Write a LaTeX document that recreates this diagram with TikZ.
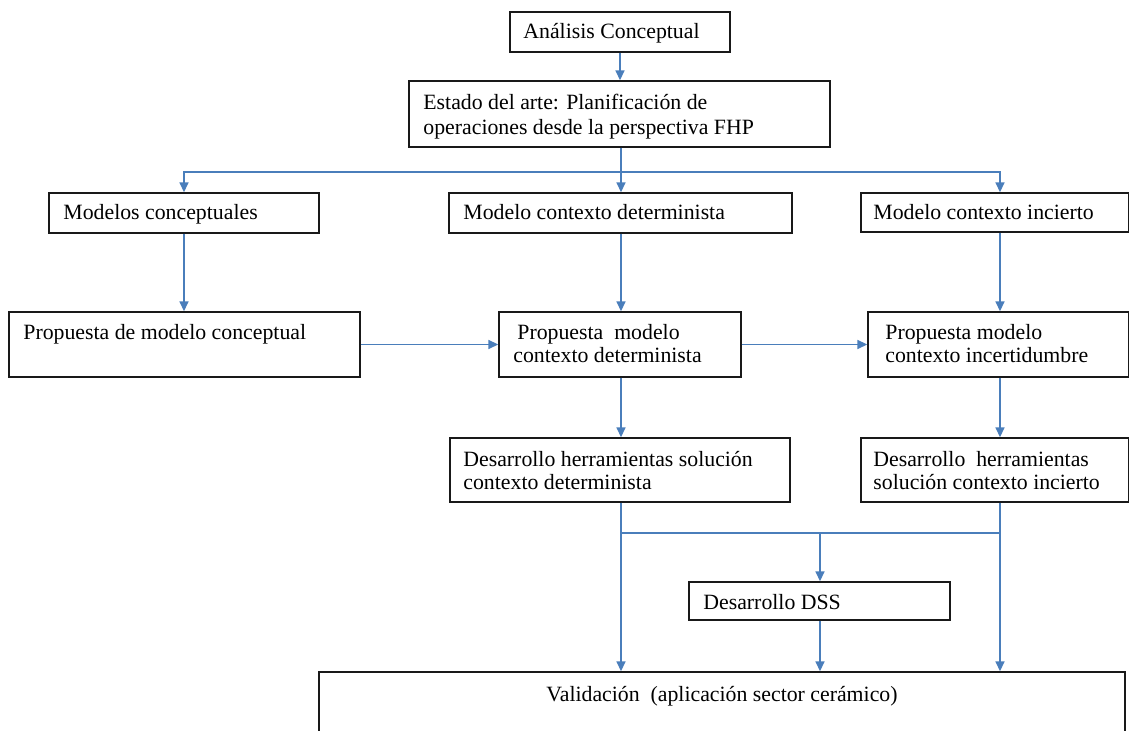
\documentclass[tikz,border=0pt]{standalone}
\usepackage{fontspec}
\setmainfont{Liberation Serif}
\usetikzlibrary{arrows.meta}
\definecolor{flow}{HTML}{4A7EBB}
\begin{document}
\begin{tikzpicture}[x=0.5pt,y=-0.5pt,
  box/.style={draw=black!90, line width=0.7pt, rectangle, inner sep=0pt},
  txt/.style={inner sep=0pt, anchor=base west, font=\fontsize{10.9}{12.5}\selectfont},
  link/.style={draw=flow, line width=0.8pt},
  arr/.style={link, -{Triangle[width=4.5pt,length=5pt]}}]
\useasboundingbox (0,0) rectangle (1130,731);
\clip (0,0) rectangle (1130,731);

% boxes (centre in px, size in pt)
\node[box, minimum width=110pt,   minimum height=20pt]   (A)   at (620,32) {};
\node[box, minimum width=210.5pt, minimum height=33pt]   (E)   at (619.5,114) {};
\node[box, minimum width=135pt,   minimum height=20pt]   (MC)  at (184,213) {};
\node[box, minimum width=171.5pt, minimum height=20pt]   (MD)  at (620.5,213) {};
\node[box, minimum width=133.75pt,minimum height=19.5pt] (MI)  at (994.75,212.5) {};
\node[box, minimum width=175.5pt, minimum height=32.5pt] (PC)  at (184.5,344.5) {};
\node[box, minimum width=121pt,   minimum height=32.5pt] (PD)  at (620,344.5) {};
\node[box, minimum width=130.25pt,minimum height=32.5pt] (PI)  at (998.25,344.5) {};
\node[box, minimum width=170pt,   minimum height=32pt]   (DD)  at (620,470) {};
\node[box, minimum width=133.75pt,minimum height=32pt]   (DI)  at (994.75,470) {};
\node[box, minimum width=130.5pt, minimum height=19pt]   (DSS) at (819.5,601) {};
\node[box, minimum width=403pt,   minimum height=49pt]   (V)   at (722,721) {};

% texts
\node[txt] (A-t)   at (523,39)  {Análisis Conceptual};
\node[txt] (E-t1)  at (423,110) {Estado del arte: Planificación de};
\node[txt] (E-t2)  at (423,135) {operaciones desde la perspectiva FHP};
\node[txt] (MC-t)  at (63,220)  {Modelos conceptuales};
\node[txt] (MD-t)  at (463,220) {Modelo contexto determinista};
\node[txt] (MI-t)  at (873,220) {Modelo contexto incierto};
\node[txt] (PC-t)  at (23,340)  {Propuesta de modelo conceptual};
\node[txt] (PD-t1) at (517,340) {Propuesta\ \ modelo};
\node[txt] (PD-t2) at (513,363) {contexto determinista};
\node[txt] (PI-t1) at (885,340) {Propuesta modelo};
\node[txt] (PI-t2) at (885,363) {contexto incertidumbre};
\node[txt] (DD-t1) at (463,467) {Desarrollo herramientas solución};
\node[txt] (DD-t2) at (463,490) {contexto determinista};
\node[txt] (DI-t1) at (873,467) {Desarrollo\ \ herramientas};
\node[txt] (DI-t2) at (873,490) {solución contexto incierto};
\node[txt] (DSS-t) at (703,610) {Desarrollo DSS};
\node[txt, anchor=base] (V-t) at (722,702) {Validación\ \ (aplicación sector cerámico)};

% column and bus coordinates
\coordinate (cL) at (184,0);
\coordinate (cM) at (621,0);
\coordinate (cS) at (820,0);
\coordinate (cR) at (1000,0);
\coordinate (bus1) at (621,172);
\coordinate (bus2) at (621,533);
\coordinate (bus2r) at (1000,533);

% connectors
\draw[arr] (A.south) -- (A.south |- E.north);
\draw[link] (cM |- E.south) -- (bus1);
\draw[arr] (bus1) -| (cL |- MC.north);
\draw[arr] (bus1) -| (cR |- MI.north);
\draw[arr] (bus1) -- (cM |- MD.north);
\draw[arr] (cL |- MC.south) -- (cL |- PC.north);
\draw[arr] (cM |- MD.south) -- (cM |- PD.north);
\draw[arr] (cR |- MI.south) -- (cR |- PI.north);
\draw[arr] (PC.east) -- (PD.west);
\draw[arr] (PD.east) -- (PI.west);
\draw[arr] (cM |- PD.south) -- (cM |- DD.north);
\draw[arr] (cR |- PI.south) -- (cR |- DI.north);
\draw[arr] (cM |- DD.south) -- (cM |- V.north);
\draw[arr] (cR |- DI.south) -- (cR |- V.north);
\draw[link] (bus2) -- (bus2r);
\draw[arr] (cS |- bus2) -- (cS |- DSS.north);
\draw[arr] (cS |- DSS.south) -- (cS |- V.north);
\end{tikzpicture}
\end{document}
